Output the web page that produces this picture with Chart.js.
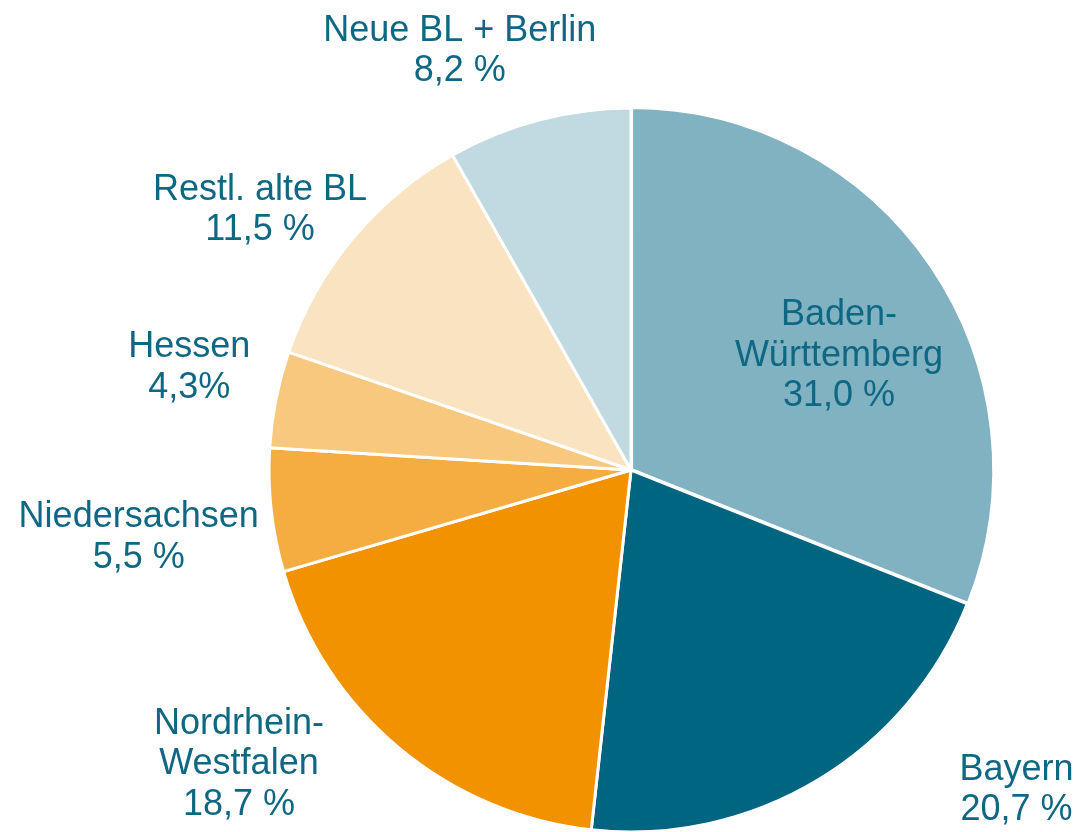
<html>

<head>
    <meta charset="utf-8" />
    <script src="https://cdn.jsdelivr.net/npm/chart.js@4.4.1/dist/chart.umd.min.js"></script>
    <title>Anteile Bundesländer</title>
    <style>
        body { margin: 0; background: #ffffff; }
    </style>
</head>

<body>
    <canvas id="pie-chart" width="1078" height="832"></canvas>
    <script>
        // data, clockwise from 12 o'clock
        const regions = [
            ["Baden-", "Württemberg"],
            ["Bayern"],
            ["Nordrhein-", "Westfalen"],
            ["Niedersachsen"],
            ["Hessen"],
            ["Restl. alte BL"],
            ["Neue BL + Berlin"]
        ];
        const shares = [31.0, 20.7, 18.7, 5.5, 4.3, 11.5, 8.2];
        const shareLabels = ["31,0 %", "20,7 %", "18,7 %", "5,5 %", "4,3%", "11,5 %", "8,2 %"];

        // styling
        const sliceColors = ["#80b2c1", "#006580", "#f39200", "#f5ad42", "#f7c87e", "#fae3c1", "#c1d9e0"];
        const labelDist = [0.66, 1.39, 1.36, 1.38, 1.26, 1.26, 1.26];   // x outer radius
        const labelShift = [5.2, -19.4, 13.2, -1.3, 1.9, -4.6, -7.4];   // degrees from mid angle

        const sliceLabels = {
            id: "sliceLabels",
            afterDatasetsDraw(chart) {
                const ctx = chart.ctx;
                const arcs = chart.getDatasetMeta(0).data;
                ctx.save();
                ctx.fillStyle = "#0f6883";
                ctx.font = "36px 'Liberation Sans', Arial, sans-serif";
                ctx.textAlign = "center";
                ctx.textBaseline = "middle";
                const lineH = 40.5;
                arcs.forEach((arc, i) => {
                    const p = arc.getProps(["x", "y", "startAngle", "endAngle"], true);
                    const a = (p.startAngle + p.endAngle) / 2 + labelShift[i] * Math.PI / 180;
                    const r = 360 * labelDist[i];
                    const cx = p.x + Math.cos(a) * r;
                    const cy = p.y + Math.sin(a) * r + 1;
                    const lines = regions[i].concat([shareLabels[i]]);
                    const top = cy - (lines.length - 1) * lineH / 2;
                    lines.forEach((t, k) => ctx.fillText(t, cx, top + k * lineH));
                });
                ctx.restore();
            }
        };

        new Chart(document.getElementById("pie-chart"), {
            type: "pie",
            data: {
                labels: regions.map(r => r.join("")),
                datasets: [{
                    data: shares,
                    backgroundColor: sliceColors,
                    borderColor: "#ffffff",
                    borderWidth: 3,
                    offset: [3, 0, 0, 0, 0, 0, 0]
                }]
            },
            options: {
                responsive: false,
                animation: false,
                radius: 362,
                layout: { padding: { left: 184, top: 108, right: 0, bottom: 0 } },
                plugins: {
                    legend: { display: false },
                    tooltip: { enabled: false }
                }
            },
            plugins: [sliceLabels]
        });
    </script>
</body>

</html>
